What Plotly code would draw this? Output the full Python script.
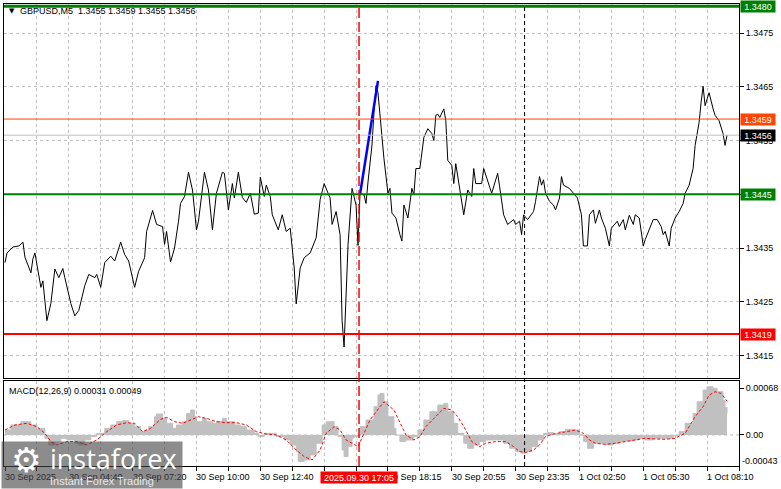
import plotly.graph_objects as go

# ---------------- data ----------------
price_bars = [0,1,4,7,9,10,13,14,15,16,18,19,21,23,25,27,29,30,33,35,37,40,42,45,46,48,50,53,55,58,60,62,65,67,70,71,74,76,79,80,81,83,85,87,88,90,92,94,96,97,100,102,104,106,109,110,112,114,115,117,119,121,123,125,127,128,130,131,133,134,137,139,141,143,145,146,148,150,153,156,158,160,163,164,166,168,169,170,171,172,174,176,177,178,180,181,182,184,185,186,187,188,190,192,193,194,196,198,199,200,202,204,205,206,208,210,212,214,215,216,217,218,220,221,222,224,225,226,228,229,230,232,234,235,236,239,240,244,247,248,250,252,255,256,258,259,260,262,265,266,268,269,270,271,273,275,276,278,279,280,283,285,287,289,290,292,293,295,296,298,299,301,303,304,307,308,310,311,313,315,316,318,320,321,325,327,329,330,331,333,334,336,338,340,341,343,345,346,348,349,350,351,353,355,356,358,360,361,362]
price_close = [1.34323,1.34341,1.34352,1.34354,1.34361,1.34333,1.34304,1.34330,1.34341,1.34317,1.34277,1.34289,1.34215,1.34247,1.34311,1.34295,1.34312,1.34295,1.34247,1.34224,1.34234,1.34280,1.34301,1.34295,1.34301,1.34277,1.34323,1.34335,1.34326,1.34361,1.34338,1.34326,1.34277,1.34307,1.34332,1.34381,1.34420,1.34394,1.34390,1.34357,1.34381,1.34324,1.34350,1.34400,1.34433,1.34446,1.34491,1.34458,1.34384,1.34400,1.34491,1.34458,1.34384,1.34452,1.34491,1.34489,1.34421,1.34470,1.34443,1.34491,1.34444,1.34435,1.34452,1.34413,1.34415,1.34482,1.34446,1.34467,1.34446,1.34412,1.34384,1.34412,1.34381,1.34387,1.34313,1.34246,1.34313,1.34332,1.34341,1.34369,1.34440,1.34470,1.34443,1.34394,1.34418,1.34375,1.34215,1.34166,1.34258,1.34357,1.34461,1.34430,1.34355,1.34452,1.34449,1.34433,1.34473,1.34542,1.34603,1.34652,1.34639,1.34597,1.34516,1.34452,1.34461,1.34415,1.34406,1.34375,1.34363,1.34430,1.34406,1.34461,1.34449,1.34498,1.34498,1.34556,1.34572,1.34563,1.34550,1.34597,1.34599,1.34593,1.34609,1.34587,1.34513,1.34504,1.34470,1.34507,1.34455,1.34437,1.34412,1.34458,1.34446,1.34498,1.34470,1.34470,1.34498,1.34452,1.34489,1.34464,1.34412,1.34394,1.34403,1.34394,1.34400,1.34375,1.34412,1.34403,1.34418,1.34437,1.34483,1.34467,1.34477,1.34452,1.34437,1.34430,1.34421,1.34443,1.34483,1.34467,1.34461,1.34452,1.34443,1.34412,1.34354,1.34354,1.34412,1.34421,1.34396,1.34421,1.34406,1.34387,1.34354,1.34387,1.34400,1.34390,1.34403,1.34384,1.34411,1.34394,1.34412,1.34406,1.34354,1.34366,1.34403,1.34403,1.34390,1.34375,1.34381,1.34354,1.34387,1.34406,1.34418,1.34433,1.34452,1.34467,1.34498,1.34541,1.34584,1.34621,1.34651,1.34615,1.34639,1.34609,1.34597,1.34587,1.34563,1.34541,1.34560]

trend_bars = [178, 187]
trend_prices = [1.3445, 1.34661]

hist_bars = [0,3,8,13,16,20,22,25,28,31,35,37,40,43,46,50,53,56,59,62,65,68,70,72,75,76,79,81,84,86,89,91,93,95,96,99,101,104,106,109,111,115,118,121,125,127,130,133,136,140,143,146,147,150,153,156,159,161,165,167,169,170,172,174,175,178,181,185,187,188,190,192,195,196,198,201,205,207,210,213,217,220,222,225,227,230,232,235,238,241,246,250,253,256,259,261,264,267,270,272,275,278,281,285,288,290,292,295,298,301,305,308,311,315,318,321,325,328,331,335,338,341,345,347,350,352,355,357,360,361,362]
hist_vals = [0.000072,0.000145,0.000193,0.000145,0.000096,-0.000048,-0.000145,-0.000096,-0.000048,-0.000072,-0.000120,-0.000145,-0.000072,-0.000024,0.000024,0.000096,0.000145,0.000193,0.000207,0.000169,0.000120,0.000048,0.000072,0.000120,0.000265,0.000304,0.000241,0.000169,0.000096,0.000145,0.000193,0.000313,0.000362,0.000265,0.000193,0.000241,0.000193,0.000169,0.000193,0.000241,0.000193,0.000145,0.000120,0.000072,0.000024,-0.000024,0.000024,0.000024,-0.000024,-0.000072,-0.000145,-0.000241,-0.000386,-0.000362,-0.000289,-0.000120,0.000145,0.000193,0.000120,-0.000024,-0.000217,-0.000313,-0.000169,-0.000048,-0.000024,0.000120,0.000217,0.000410,0.000580,0.000600,0.000482,0.000265,0.000096,0.0,-0.000096,-0.000072,-0.000024,0.000072,0.000217,0.000337,0.000434,0.000458,0.000337,0.000169,0.000024,-0.000120,-0.000193,-0.000145,-0.000096,-0.000072,-0.000072,-0.000120,-0.000193,-0.000241,-0.000265,-0.000241,-0.000169,-0.000072,0.000024,0.000034,0.000014,0.000048,0.000082,0.000072,0.0,-0.000096,-0.000193,-0.000120,-0.000120,-0.000145,-0.000120,-0.000096,-0.000087,-0.000072,-0.000048,-0.000072,-0.000048,-0.000048,-0.000048,-0.000014,0.000048,0.000169,0.000313,0.000482,0.000651,0.000699,0.000675,0.000627,0.000500,0.000400,0.000310]

sig_bars = [0,5,11,16,20,23,26,31,36,41,46,51,56,61,65,69,73,78,81,85,89,93,97,101,106,111,116,121,126,131,136,141,146,150,154,158,161,165,168,171,175,177,180,183,188,190,195,198,201,205,208,211,216,220,224,227,231,234,238,241,246,251,255,258,261,265,268,271,275,279,283,286,290,293,296,301,306,311,316,321,326,331,336,341,343,346,350,353,356,359,361,362]
sig_vals = [0.000072,0.000145,0.000169,0.000120,0.000024,-0.000096,-0.000145,-0.000096,-0.000096,-0.000145,-0.000072,0.000048,0.000145,0.000178,0.000169,0.000048,0.000096,0.000227,0.000255,0.000193,0.000169,0.000217,0.000265,0.000241,0.000193,0.000178,0.000178,0.000145,0.000048,0.000014,0.0,-0.000072,-0.000217,-0.000313,-0.000362,-0.000217,0.000024,0.000120,0.000072,-0.000072,-0.000145,-0.000169,0.000024,0.000217,0.000410,0.000482,0.000362,0.000169,0.0,-0.000072,-0.000024,0.000120,0.000265,0.000386,0.000362,0.000265,0.000072,-0.000096,-0.000169,-0.000120,-0.000096,-0.000096,-0.000169,-0.000241,-0.000255,-0.000217,-0.000145,-0.000024,0.000014,0.000034,0.000058,0.000072,0.000024,-0.000072,-0.000120,-0.000135,-0.000120,-0.000096,-0.000072,-0.000048,-0.000058,-0.000063,-0.000048,0.000024,0.000120,0.000265,0.000410,0.000578,0.000627,0.000603,0.000530,0.000490]

level_prices = [1.3480, 1.3459, 1.3445, 1.3419]
level_labels = ["1.3480", "1.3459", "1.3445", "1.3419"]
level_colors = ["#008000", "#FF4500", "#008000", "#FF0000"]
level_widths = [3, 1, 2, 2]
bid_price = 1.3456
bid_label = "1.3456"

price_ticks = [1.3415, 1.3425, 1.3435, 1.3445, 1.3455, 1.3465, 1.3475]
price_tick_text = ["1.3415", "1.3425", "1.3435", "", "1.3455", "1.3465", "1.3475"]

grid_bars = list(range(0, 369, 16))
x_label_bars = [0, 32, 64, 96, 128, 192, 224, 256, 288, 320, 352]
x_labels = ["30 Sep 2025", "30 Sep 04:40", "30 Sep 07:20", "30 Sep 10:00", "30 Sep 12:40",
            "30 Sep 18:15", "30 Sep 20:55", "30 Sep 23:35", "1 Oct 02:50", "1 Oct 05:30", "1 Oct 08:10"]

signal_bar = 177.5
signal_label = "2025.09.30 17:05"
day_bar = 260.5

macd_ticks = [0.00068, 0.0]
macd_tick_text = ["0.00068", "0.00"]
macd_min = -0.00043
macd_min_text = "-0.00043"

title_text = "GBPUSD,M5\u00a0\u00a01.3455 1.3459 1.3455 1.3456"
macd_title = "MACD(12,26,9) 0.00031 0.00049"

# ---------------- layout geometry ----------------
W, H = 781, 489
PL, PR, PT, PB = 3, 740, 3, 466
MAIN_BOTTOM, MACD_TOP = 378, 381
FONT = "Liberation Sans"
GRID = "#C0C0C0"


def px_x(px):
    return (px - PL) / (PR - PL)


def px_y(py):
    return (PB - py) / (PB - PT)


fig = go.Figure()

fig.add_trace(go.Scatter(x=price_bars, y=price_close, mode="lines",
                         line=dict(color="black", width=1), xaxis="x", yaxis="y",
                         hoverinfo="skip", showlegend=False))
fig.add_trace(go.Scatter(x=trend_bars, y=trend_prices, mode="lines",
                         line=dict(color="#0000FF", width=2.5), xaxis="x", yaxis="y",
                         hoverinfo="skip", showlegend=False))

fig.add_trace(go.Scatter(x=hist_bars, y=hist_vals, mode="lines", fill="tozeroy",
                         line=dict(color="#C0C0C0", width=1, shape="hv"), fillcolor="#C0C0C0",
                         xaxis="x2", yaxis="y2", hoverinfo="skip", showlegend=False))
fig.add_trace(go.Scatter(x=sig_bars, y=sig_vals, mode="lines",
                         line=dict(color="#FF0000", width=1, dash="3px,2px"),
                         xaxis="x2", yaxis="y2", hoverinfo="skip", showlegend=False))

shapes = []
shapes.append(dict(type="line", xref="x2 domain", x0=0, x1=1, yref="y2", y0=0, y1=0,
                   line=dict(color=GRID, width=1, dash="3px,3px"), layer="below"))
shapes.append(dict(type="line", xref="x domain", x0=0, x1=1, yref="y", y0=bid_price, y1=bid_price,
                   line=dict(color="#C0C0C0", width=1)))
for p, c, w in zip(level_prices, level_colors, level_widths):
    shapes.append(dict(type="line", xref="x domain", x0=0, x1=1, yref="y", y0=p, y1=p,
                       line=dict(color=c, width=w)))
shapes.append(dict(type="line", xref="x", x0=signal_bar, x1=signal_bar, yref="paper", y0=0, y1=1,
                   line=dict(color="#FF0000", width=1.5, dash="10px,4px")))
shapes.append(dict(type="line", xref="x", x0=day_bar, x1=day_bar, yref="paper", y0=0, y1=1,
                   line=dict(color="black", width=1, dash="4px,3px")))

ann = []
for b, t in zip(x_label_bars, x_labels):
    ann.append(dict(xref="x2", x=b, xanchor="left", xshift=-2, yref="paper", y=px_y(477),
                    yanchor="middle", text=t, showarrow=False,
                    font=dict(family=FONT, size=9, color="black")))
ann.append(dict(xref="x2", x=signal_bar, xanchor="center", yref="paper", y=px_y(478),
                yanchor="middle", text=signal_label, showarrow=False, bgcolor="#FF0000",
                width=76, height=11, borderpad=0, font=dict(family=FONT, size=9, color="white")))
for p, t, c in zip(level_prices, level_labels, level_colors):
    ann.append(dict(xref="paper", x=px_x(741), xanchor="left", yref="y", y=p, yanchor="middle",
                    text=t, showarrow=False, bgcolor=c, width=34, height=11, borderpad=0,
                    font=dict(family=FONT, size=9, color="white")))
ann.append(dict(xref="paper", x=px_x(741), xanchor="left", yref="y", y=bid_price, yanchor="middle",
                text=bid_label, showarrow=False, bgcolor="black", width=34, height=11, borderpad=0,
                font=dict(family=FONT, size=9, color="white")))
ann.append(dict(xref="paper", x=px_x(741), xanchor="left", yref="paper", y=px_y(461), yanchor="middle",
                text=macd_min_text, showarrow=False, font=dict(family=FONT, size=9, color="black")))
ann.append(dict(xref="paper", x=px_x(6), xanchor="left", yref="paper", y=px_y(10), yanchor="middle",
                text="▼", showarrow=False, font=dict(family="DejaVu Sans", size=7, color="black")))
ann.append(dict(xref="paper", x=px_x(17), xanchor="left", yref="paper", y=px_y(10), yanchor="middle",
                text=title_text, showarrow=False, font=dict(family=FONT, size=9, color="black")))
ann.append(dict(xref="paper", x=px_x(6), xanchor="left", yref="paper", y=px_y(391), yanchor="middle",
                text=macd_title, showarrow=False, font=dict(family=FONT, size=9, color="black")))
# watermark
ann.append(dict(xref="paper", x=px_x(0), xanchor="left", yref="paper", y=px_y(489), yanchor="bottom",
                text=" ", showarrow=False, bgcolor="rgba(70,70,70,0.62)", width=180, height=46,
                borderpad=0))
ann.append(dict(xref="paper", x=px_x(25), xanchor="center", yref="paper", y=px_y(460), yanchor="middle",
                text="⚙", showarrow=False, font=dict(family="DejaVu Sans", size=34, color="white")))
ann.append(dict(xref="paper", x=px_x(47), xanchor="left", yref="paper", y=px_y(458), yanchor="middle",
                text="instaforex", showarrow=False, font=dict(family="Open Sans", size=27, color="white")))
ann.append(dict(xref="paper", x=px_x(47), xanchor="left", yref="paper", y=px_y(481), yanchor="middle",
                text="Instant Forex Trading", showarrow=False,
                font=dict(family=FONT, size=11, color="#E8E8E8")))

main_dom = [(PB - MAIN_BOTTOM) / (PB - PT), 1]
macd_dom = [0, (PB - MACD_TOP) / (PB - PT)]
xr = [-0.5, 368]

fig.update_layout(
    width=W, height=H, margin=dict(l=PL, r=W - PR, t=PT, b=H - PB),
    paper_bgcolor="white", plot_bgcolor="white", showlegend=False,
    font=dict(family=FONT, size=9, color="black"),
    xaxis=dict(domain=[0, 1], anchor="y", range=xr, tickmode="array", tickvals=grid_bars,
               showticklabels=False, ticks="", showgrid=True, gridcolor=GRID, griddash="3px,3px",
               gridwidth=1, showline=True, linecolor="black", linewidth=1, mirror=True,
               zeroline=False, fixedrange=True),
    xaxis2=dict(domain=[0, 1], anchor="y2", range=xr, matches="x", tickmode="array",
                tickvals=grid_bars, ticktext=[""] * len(grid_bars), ticks="outside", ticklen=4,
                tickcolor="black", showgrid=True, gridcolor=GRID, griddash="3px,3px", gridwidth=1,
                showline=True, linecolor="black", linewidth=1, mirror=True, zeroline=False),
    yaxis=dict(domain=main_dom, anchor="x", side="right", range=[1.34108, 1.34804],
               tickmode="array", tickvals=price_ticks, ticktext=price_tick_text,
               ticks="outside", ticklen=4, tickcolor="black", showgrid=True, gridcolor=GRID,
               griddash="3px,3px", showline=True, linecolor="black", linewidth=1, mirror=True,
               zeroline=False, tickfont=dict(family=FONT, size=9, color="black")),
    yaxis2=dict(domain=macd_dom, anchor="x2", side="right", range=[-0.00045, 0.00078],
                tickmode="array", tickvals=macd_ticks, ticktext=macd_tick_text,
                ticks="outside", ticklen=4, tickcolor="black", showgrid=False,
                showline=True, linecolor="black", linewidth=1, mirror=True, zeroline=False,
                tickfont=dict(family=FONT, size=9, color="black")),
    shapes=shapes, annotations=ann,
)

fig.write_html("out.html", config={"displayModeBar": False},
               post_script="document.body.style.margin='0px';")
